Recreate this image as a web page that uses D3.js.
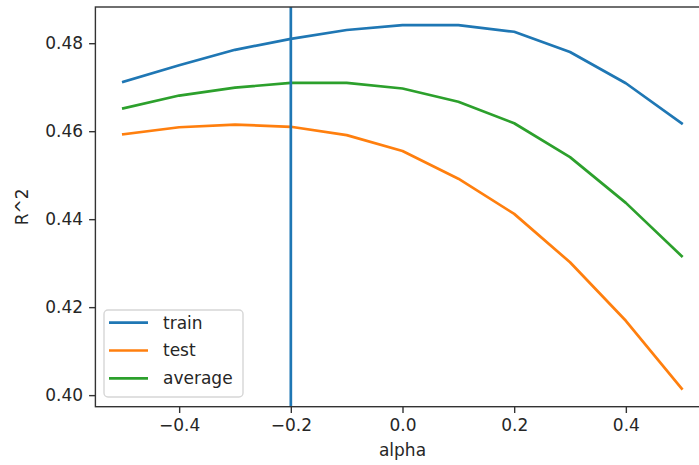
<!DOCTYPE html>
<html>
<head>
<meta charset="utf-8">
<script src="https://cdn.jsdelivr.net/npm/d3@7"></script>
<style>
  body { margin: 0; background: #fff; }
  svg { display: block; overflow: hidden; }
  text { font-family: "DejaVu Sans", sans-serif; fill: #262626; }
</style>
</head>
<body>
<div id="chart"></div>
<script>
// values
var alphas = [-0.5, -0.4, -0.3, -0.2, -0.1, 0.0, 0.1, 0.2, 0.3, 0.4, 0.5];
var trainR2 = [0.4712, 0.4750, 0.4785, 0.4810, 0.4830, 0.4841, 0.4841, 0.4826, 0.4780, 0.4709, 0.4618];
var testR2 = [0.4593, 0.4609, 0.4615, 0.4610, 0.4591, 0.4555, 0.4492, 0.4412, 0.4302, 0.4169, 0.4015];
var averageR2 = [0.4652, 0.4681, 0.4699, 0.4710, 0.4710, 0.4697, 0.4667, 0.4618, 0.4541, 0.4437, 0.4316];
var seriesNames = ['train', 'test', 'average'];
var seriesColors = ['#1f77b4', '#ff7f0e', '#2ca02c'];
var bestAlpha = -0.2;
var xTicks = [-0.4, -0.2, 0.0, 0.2, 0.4];
var yTicks = [0.40, 0.42, 0.44, 0.46, 0.48];

var W = 699, H = 465;
// the axes run past the right edge of the picture (cropped figure)
var axLeft = 95.4, axRight = 709.6, axTop = 7, axBottom = 406.7;
var fs = 17;

var svg = d3.select('#chart').append('svg').attr('width', W).attr('height', H);

var allSeries = [trainR2, testR2, averageR2];
var ext = d3.extent(d3.merge(allSeries));
var pad = (ext[1] - ext[0]) * 0.05;

var x = d3.scaleLinear().domain([-0.55, 0.55]).range([axLeft, axRight]);
var y = d3.scaleLinear().domain([ext[0] - pad, ext[1] + pad]).range([axBottom, axTop]);

var line = d3.line()
  .x(function(d, i){ return x(alphas[i]); })
  .y(function(d){ return y(d); });

// data lines
svg.selectAll('path.series')
  .data(allSeries).enter().append('path')
  .attr('class', 'series')
  .attr('d', line)
  .attr('fill', 'none')
  .attr('stroke', function(d, i){ return seriesColors[i]; })
  .attr('stroke-width', 2.7)
  .attr('stroke-linejoin', 'round')
  .attr('stroke-linecap', 'square');

// vertical line at best alpha
svg.append('line')
  .attr('x1', x(bestAlpha)).attr('x2', x(bestAlpha))
  .attr('y1', axTop).attr('y2', axBottom)
  .attr('stroke', seriesColors[0])
  .attr('stroke-width', 2.7);

// axes
var xAxis = d3.axisBottom(x).tickValues(xTicks).tickFormat(d3.format('.1f'))
  .tickSizeInner(6.3).tickSizeOuter(0).tickPadding(6);
var yAxis = d3.axisLeft(y).tickValues(yTicks).tickFormat(d3.format('.2f'))
  .tickSizeInner(6.3).tickSizeOuter(0).tickPadding(6);

var gx = svg.append('g').attr('transform', 'translate(0,' + axBottom + ')').call(xAxis);
var gy = svg.append('g').attr('transform', 'translate(' + axLeft + ',0)').call(yAxis);
[gx, gy].forEach(function(g){
  g.select('.domain').remove();
  g.selectAll('.tick line').attr('stroke', '#333').attr('stroke-width', 1.4);
  g.selectAll('.tick text').attr('font-size', fs).attr('font-family', '"DejaVu Sans", sans-serif').attr('fill', '#262626');
});

// spines
svg.append('rect')
  .attr('x', axLeft).attr('y', axTop)
  .attr('width', axRight - axLeft).attr('height', axBottom - axTop)
  .attr('fill', 'none').attr('stroke', '#333').attr('stroke-width', 1.4);

// axis labels
svg.append('text')
  .attr('x', (axLeft + axRight) / 2).attr('y', 456)
  .attr('text-anchor', 'middle').attr('font-size', fs)
  .text('alpha');
svg.append('text')
  .attr('transform', 'translate(28,' + ((axTop + axBottom) / 2) + ') rotate(-90)')
  .attr('text-anchor', 'middle').attr('font-size', fs)
  .text('R^2');

// legend
var legend = svg.append('g');
legend.append('rect')
  .attr('x', 104).attr('y', 310).attr('width', 139).attr('height', 87)
  .attr('rx', 4).attr('ry', 4)
  .attr('fill', 'rgba(255,255,255,0.8)').attr('stroke', '#d6d6d6').attr('stroke-width', 1.4);
var items = legend.selectAll('g.item')
  .data(seriesNames).enter().append('g')
  .attr('class', 'item')
  .attr('transform', function(d, i){ return 'translate(0,' + (322.7 + i * 27.8) + ')'; });
items.append('line')
  .attr('x1', 109).attr('x2', 148)
  .attr('stroke', function(d, i){ return seriesColors[i]; })
  .attr('stroke-width', 2.7);
items.append('text')
  .attr('x', 163).attr('dy', '0.35em')
  .attr('font-size', fs)
  .text(function(d){ return d; });
</script>
</body>
</html>
